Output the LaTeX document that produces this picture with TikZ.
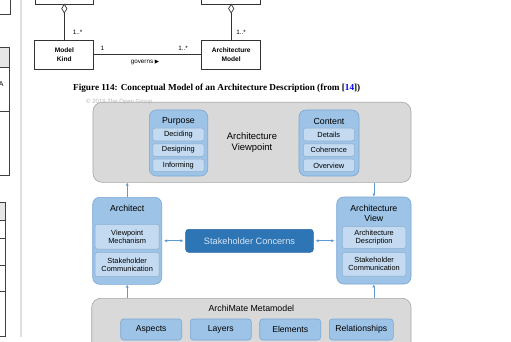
\documentclass[tikz,border=0pt]{standalone}
\usepackage{fontspec}
\setmainfont{Liberation Sans}
\newfontfamily\capfont{Liberation Serif}
\newfontfamily\symfont{DejaVu Sans}
\usetikzlibrary{arrows.meta,shapes.geometric}
\definecolor{grayfill}{HTML}{D9D9D9}
\definecolor{grayline}{HTML}{A6A6A6}
\definecolor{bluefill}{HTML}{9DC3E6}
\definecolor{blueline}{HTML}{7AA7D6}
\definecolor{subfill}{HTML}{C3DAF0}
\definecolor{subline}{HTML}{8FAFD0}
\definecolor{darkblue}{HTML}{2E75B6}
\definecolor{darkblueline}{HTML}{2A68A3}
\definecolor{sctext}{HTML}{D6E6F5}
\definecolor{arrowblue}{HTML}{5B9BD5}
\definecolor{sepgray}{HTML}{E0E0E0}
\definecolor{hdrgray}{HTML}{E6E6E6}
\definecolor{linkblue}{HTML}{0000EE}
\begin{document}
\begin{tikzpicture}[x=1pt,y=-1pt,
  graybox/.style={draw=grayline,fill=grayfill,rounded corners=9pt,line width=0.6pt,inner sep=0pt},
  bluebox/.style={draw=blueline,fill=bluefill,rounded corners=7pt,line width=0.6pt,inner sep=0pt},
  subbox/.style={draw=subline,fill=subfill,rounded corners=2pt,line width=0.5pt,inner sep=0pt,align=center,font=\fontsize{7.4}{8}\selectfont},
  mmbox/.style={draw=blueline,fill=bluefill,rounded corners=3pt,line width=0.6pt,inner sep=0pt,font=\fontsize{8.6}{9}\selectfont},
  title/.style={inner sep=0pt,align=center,font=\fontsize{8.8}{10}\selectfont},
  umlbox/.style={draw=black!80,line width=0.8pt,fill=white,inner sep=0pt,align=center,font=\bfseries\fontsize{6.6}{8.6}\selectfont},
  umllbl/.style={inner sep=0pt,font=\fontsize{6.3}{7}\selectfont},
  arr/.style={draw=arrowblue,line width=0.7pt,-{Latex[length=3pt,width=3pt]}},
  darr/.style={draw=arrowblue,line width=0.7pt,{Latex[length=3pt,width=3pt]}-{Latex[length=3pt,width=3pt]}},
  frag/.style={draw=black!75,line width=0.7pt}
]
\useasboundingbox (0,0) rectangle (511,342);
\clip (0,0) rectangle (511,342);
\fill[white] (0,0) rectangle (511,342);

% ---- left page fragments
\draw[frag] (-2,14) -- (10.5,14) -- (10.5,-2);
\fill[hdrgray] (-2,47) rectangle (9.5,67);
\draw[frag] (-2,47) -- (9.5,47) -- (9.5,175) -- (-2,175);
\draw[frag] (-2,67) -- (9.5,67);
\draw[frag] (-2,111) -- (9.5,111);
\node[inner sep=0pt,font=\fontsize{7}{8}\selectfont] (fragA) at (1.2,84) {A};
\fill[hdrgray] (-2,202.7) rectangle (5.3,220);
\draw[frag] (-2,202.7) -- (5.3,202.7) -- (5.3,336) -- (-2,336);
\draw[frag] (-2,220) -- (5.3,220);
\draw[frag] (-2,238.3) -- (5.3,238.3);
\draw[frag] (-2,265) -- (5.3,265);
\draw[frag] (-2,291) -- (5.3,291);
\draw[sepgray,line width=1.6pt] (21,-2) -- (21,337);

% ---- UML part
\node[umlbox,minimum width=58pt,minimum height=30pt] (ul) at (64,-11) {};
\node[umlbox,minimum width=59pt,minimum height=30pt] (ur) at (231.2,-11) {};
\node[umlbox,minimum width=59pt,minimum height=29.5pt] (mk) at (64.3,54.75) {Model\\Kind};
\node[umlbox,minimum width=59pt,minimum height=29.5pt] (am) at (231.2,54.75) {Architecture\\Model};
\node[diamond,draw=black!80,fill=white,line width=0.7pt,inner sep=0pt,minimum width=5.5pt,minimum height=9pt] (dl) at (64.3,8.6) {};
\node[diamond,draw=black!80,fill=white,line width=0.7pt,inner sep=0pt,minimum width=5.5pt,minimum height=9pt] (dr) at (231.2,8.6) {};
\draw[black!80,line width=0.8pt] (dl.south) -- (mk.north);
\draw[black!80,line width=0.8pt] (dr.south) -- (am.north);
\draw[black!80,line width=0.8pt] (mk.east) -- (am.west);
\node[umllbl] (m1) at (77.5,32) {1..*};
\node[umllbl] (m2) at (241,32) {1..*};
\node[umllbl] (m3) at (102.5,48) {1};
\node[umllbl] (m4) at (183,48) {1..*};
\node[umllbl] (gov) at (145,62.5) {governs {\symfont\fontsize{5.5}{6}\selectfont ▶}};
\node[anchor=west,inner sep=0pt,font=\capfont\bfseries\fontsize{9.2}{10}\selectfont] (cap) at (73,88.5) {Figure 114: Conceptual Model of an Architecture Description (from [\textcolor{linkblue}{14}])};

% ---- Viewpoint box
\node[graybox,minimum width=318pt,minimum height=80pt] (vp) at (252,142.3) {};
\node[inner sep=0pt,text=black!28,font=\fontsize{6}{6.5}\selectfont,anchor=west] (copy) at (86,101.5) {© 2019 The Open Group};
\node[bluebox,minimum width=58.4pt,minimum height=66pt] (purp) at (178.5,143) {};
\node[title] (purpt) at (178.5,121) {Purpose};
\node[subbox,minimum width=51.3pt,minimum height=12.5pt] (dec) at (178.4,134.5) {Deciding};
\node[subbox,minimum width=51.3pt,minimum height=12.5pt] (des) at (178.4,150) {Designing};
\node[subbox,minimum width=51.3pt,minimum height=12.5pt] (inf) at (178.4,165.4) {Informing};
\node[title,font=\fontsize{9.4}{10.7}\selectfont] (avt) at (252,142.3) {Architecture\\Viewpoint};
\node[bluebox,minimum width=60pt,minimum height=66pt] (cont) at (329,143) {};
\node[title] (contt) at (329,121) {Content};
\node[subbox,minimum width=51pt,minimum height=12.5pt] (det) at (328.8,134.5) {Details};
\node[subbox,minimum width=51pt,minimum height=12.5pt] (coh) at (328.8,150) {Coherence};
\node[subbox,minimum width=51pt,minimum height=12.5pt] (ovw) at (328.8,165.4) {Overview};

% ---- Architect
\node[bluebox,minimum width=69pt,minimum height=87pt] (arch) at (127.2,240.8) {};
\node[title] (archt) at (127.2,208.3) {Architect};
\node[subbox,minimum width=64pt,minimum height=24.7pt] (vm) at (127.2,236.7) {Viewpoint\\Mechanism};
\node[subbox,minimum width=64pt,minimum height=24.4pt] (sc1) at (127.2,264.5) {Stakeholder\\Communication};

% ---- Stakeholder Concerns
\node[draw=darkblueline,fill=darkblue,rounded corners=3pt,line width=0.6pt,minimum width=127.6pt,minimum height=23pt,inner sep=0pt,text=sctext,font=\fontsize{9.2}{10}\selectfont] (sc) at (249.5,240.8) {Stakeholder Concerns};

% ---- Architecture View
\node[bluebox,minimum width=74.3pt,minimum height=87pt] (av) at (373.85,240.5) {};
\node[title] (avtt) at (373.85,213.3) {Architecture\\View};
\node[subbox,minimum width=63.7pt,minimum height=21.6pt] (ad) at (374.1,237.5) {Architecture\\Description};
\node[subbox,minimum width=63.7pt,minimum height=23.3pt] (sc2) at (374.1,264.35) {Stakeholder\\Communication};

% ---- Metamodel
\node[graybox,minimum width=319.3pt,minimum height=70pt] (mm) at (251.35,333.3) {};
\node[title] (mmt) at (251.35,308.3) {ArchiMate Metamodel};
\node[mmbox,minimum width=61pt,minimum height=21pt] (asp) at (151.2,329.5) {Aspects};
\node[mmbox,minimum width=61pt,minimum height=21pt] (lay) at (220.8,329.5) {Layers};
\node[mmbox,minimum width=61pt,minimum height=21pt] (ele) at (290.2,329.5) {Elements};
\node[mmbox,minimum width=64pt,minimum height=21pt] (rel) at (361.3,329.5) {Relationships};

% ---- connectors
\draw[arr] (arch.north) -- (arch.north |- vp.south);
\draw[arr] (av.north |- vp.south) -- (av.north);
\draw[arr] (arch.south |- mm.north) -- (arch.south);
\draw[arr] (av.south |- mm.north) -- (av.south);
\draw[darr,shorten <=2pt,shorten >=2pt] (arch.east) -- (sc.west);
\draw[darr,shorten <=2pt,shorten >=2pt] (sc.east) -- (sc.east -| av.west);
\end{tikzpicture}
\end{document}
